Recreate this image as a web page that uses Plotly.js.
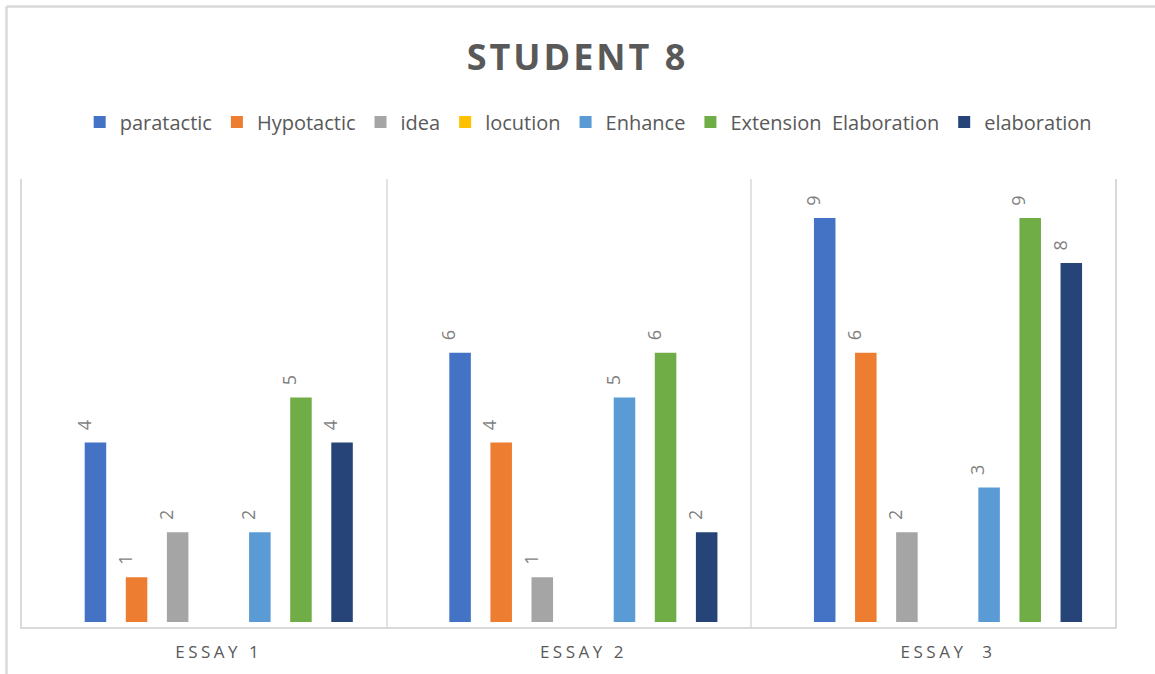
<!DOCTYPE html>
<html>
<head>
<meta charset="utf-8">
<script src="https://cdn.plot.ly/plotly-3.0.1.min.js"></script>
<style>
  html, body { margin: 0; padding: 0; background: #fff; }
  #chart { width: 1155px; height: 674px; }
  .gtitle { letter-spacing: 3px; }
  .xtick text { letter-spacing: 3.5px; }
</style>
</head>
<body>
<div id="chart"></div>
<script>
const categories = ['ESSAY 1', 'ESSAY 2', 'ESSAY\u00a0 3'];
const seriesNames = ['paratactic', 'Hypotactic', 'idea', 'locution', 'Enhance', 'Extension  Elaboration', 'elaboration'];
const paratactic = [4, 6, 9];
const hypotactic = [1, 4, 6];
const idea = [2, 1, 2];
const locution = [0, 0, 0];
const enhance = [2, 5, 3];
const extensionElaboration = [5, 6, 9];
const elaboration = [4, 2, 8];
const colors = ['#4472C4', '#ED7D31', '#A5A5A5', '#FFC000', '#5B9BD5', '#70AD47', '#264478'];

const seriesValues = [paratactic, hypotactic, idea, locution, enhance, extensionElaboration, elaboration];

const traces = seriesValues.map((vals, i) => ({
  type: 'bar',
  name: seriesNames[i].replace('  ', '\u00a0 '),
  x: categories,
  y: vals,
  marker: { color: colors[i], line: { width: 0 } },
  text: vals.map(v => v ? '\u00a0\u00a0' + v + '<br>\u00a0' : ''),
  textposition: 'outside',
  textangle: -90,
  constraintext: 'none',
  cliponaxis: false,
  textfont: { family: 'Open Sans, sans-serif', size: 18, color: '#7F7F7F' },
  hoverinfo: 'x+y+name'
}));

const frame = '#D9D9D9';
const layout = {
  width: 1155,
  height: 674,
  margin: { l: 22, r: 40, t: 179, b: 47, autoexpand: false },
  paper_bgcolor: '#FFFFFF',
  plot_bgcolor: 'rgba(0,0,0,0)',
  font: { family: 'Open Sans, sans-serif', color: '#595959' },
  title: {
    text: '<b>STUDENT 8</b>',
    font: { family: 'Open Sans, sans-serif', size: 36, color: '#595959' },
    x: 0.5, xanchor: 'center',
    xref: 'container',
    y: 0.915, yanchor: 'middle', yref: 'container'
  },
  showlegend: true,
  legend: {
    orientation: 'h',
    x: 0.518, xref: 'paper', xanchor: 'center',
    y: 1.127, yref: 'paper', yanchor: 'middle',
    font: { family: 'Open Sans, sans-serif', size: 20, color: '#595959' },
    traceorder: 'normal',
    itemclick: false,
    bgcolor: 'rgba(0,0,0,0)'
  },
  barmode: 'group',
  bargap: 0.211,
  bargroupgap: 0.476,
  xaxis: {
    type: 'category',
    range: [-0.5396, 2.458],
    showgrid: false,
    zeroline: false,
    showline: true,
    linecolor: frame,
    linewidth: 2,
    ticks: '',
    ticklabelstandoff: 9,
    tickfont: { family: 'Open Sans, sans-serif', size: 17, color: '#595959' },
    fixedrange: true
  },
  yaxis: {
    range: [-0.11, 9.87],
    showgrid: false,
    zeroline: false,
    showticklabels: false,
    ticks: '',
    showline: true,
    mirror: true,
    linecolor: frame,
    linewidth: 1.5,
    fixedrange: true
  },
  shapes: [
    { type: 'line', xref: 'paper', yref: 'paper', x0: 0.334, x1: 0.334, y0: 0, y1: 1, line: { color: frame, width: 1.5 } },
    { type: 'line', xref: 'paper', yref: 'paper', x0: 0.667, x1: 0.667, y0: 0, y1: 1, line: { color: frame, width: 1.5 } },
    { type: 'line', xref: 'paper', yref: 'paper', x0: -0.0142, x1: 1.06, y0: 1.385, y1: 1.385, line: { color: frame, width: 2.5 } },
    { type: 'line', xref: 'paper', yref: 'paper', x0: -0.0142, x1: -0.0142, y0: 1.385, y1: -0.12, line: { color: frame, width: 2.5 } }
  ]
};

Plotly.newPlot('chart', traces, layout, { displayModeBar: false });
</script>
</body>
</html>
